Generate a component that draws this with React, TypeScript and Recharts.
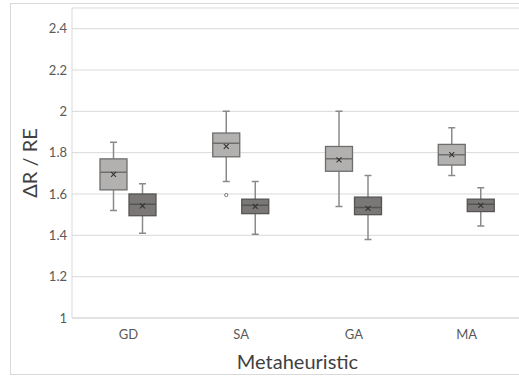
import { ComposedChart, Bar, XAxis, YAxis, CartesianGrid, Label } from "recharts";

const CATEGORIES = ["GD", "SA", "GA", "MA"];
const Y_TICKS = [1, 1.2, 1.4, 1.6, 1.8, 2, 2.2, 2.4];

// light boxes (first series)
const LIGHT_MIN = [1.52, 1.66, 1.54, 1.69];
const LIGHT_Q1 = [1.62, 1.78, 1.71, 1.74];
const LIGHT_MEDIAN = [1.705, 1.845, 1.77, 1.79];
const LIGHT_Q3 = [1.77, 1.895, 1.83, 1.84];
const LIGHT_MAX = [1.85, 2.0, 2.0, 1.92];
const LIGHT_MEAN = [1.695, 1.83, 1.765, 1.79];
const LIGHT_OUTLIERS = [[], [1.595], [], []];

// dark boxes (second series)
const DARK_MIN = [1.41, 1.405, 1.38, 1.445];
const DARK_Q1 = [1.495, 1.505, 1.5, 1.515];
const DARK_MEDIAN = [1.55, 1.545, 1.535, 1.55];
const DARK_Q3 = [1.6, 1.575, 1.585, 1.575];
const DARK_MAX = [1.65, 1.66, 1.69, 1.63];
const DARK_MEAN = [1.543, 1.54, 1.53, 1.545];
const DARK_OUTLIERS = [[], [], [], []];

type Stats = { min: number; q1: number; median: number; q3: number; max: number; mean: number; outliers: number[] };

const pack = (i: number, mn: number[], q1: number[], md: number[], q3: number[], mx: number[], mean: number[], out: number[][]): Stats => ({
  min: mn[i], q1: q1[i], median: md[i], q3: q3[i], max: mx[i], mean: mean[i], outliers: out[i],
});

const data = CATEGORIES.map((name, i) => {
  const light = pack(i, LIGHT_MIN, LIGHT_Q1, LIGHT_MEDIAN, LIGHT_Q3, LIGHT_MAX, LIGHT_MEAN, LIGHT_OUTLIERS);
  const dark = pack(i, DARK_MIN, DARK_Q1, DARK_MEDIAN, DARK_Q3, DARK_MAX, DARK_MEAN, DARK_OUTLIERS);
  return {
    name,
    light,
    dark,
    lightRange: [Math.min(light.min, ...light.outliers), Math.max(light.max, ...light.outliers)],
    darkRange: [Math.min(dark.min, ...dark.outliers), Math.max(dark.max, ...dark.outliers)],
  };
});

function makeBoxShape(key: "light" | "dark", fill: string, stroke: string, whisker: string) {
  return (props: any) => {
    const { x, y, width, height, payload } = props;
    const s: Stats = payload[key];
    const range = payload[key + "Range"];
    const lo = range[0];
    const hi = range[1];
    const top = Math.min(y, y + height);
    const h = Math.abs(height);
    const py = (v: number) => top + ((hi - v) / (hi - lo)) * h;
    const cx = x + width / 2;
    const cap = 3.5;
    const m = 2.5;
    return (
      <g>
        <line x1={cx} x2={cx} y1={py(s.max)} y2={py(s.q3)} stroke={whisker} strokeWidth={1.5} />
        <line x1={cx} x2={cx} y1={py(s.q1)} y2={py(s.min)} stroke={whisker} strokeWidth={1.5} />
        <line x1={cx - cap} x2={cx + cap} y1={py(s.max)} y2={py(s.max)} stroke={whisker} strokeWidth={1.5} />
        <line x1={cx - cap} x2={cx + cap} y1={py(s.min)} y2={py(s.min)} stroke={whisker} strokeWidth={1.5} />
        <rect x={x} y={py(s.q3)} width={width} height={py(s.q1) - py(s.q3)} fill={fill} stroke={stroke} strokeWidth={1.3} />
        <line x1={x} x2={x + width} y1={py(s.median)} y2={py(s.median)} stroke={stroke} strokeWidth={1.5} />
        <line x1={cx - m} x2={cx + m} y1={py(s.mean) - m} y2={py(s.mean) + m} stroke="#333" strokeWidth={1.1} />
        <line x1={cx - m} x2={cx + m} y1={py(s.mean) + m} y2={py(s.mean) - m} stroke="#333" strokeWidth={1.1} />
        {s.outliers.map((o, j) => (
          <circle key={j} cx={cx} cy={py(o)} r={1.6} fill="#fff" stroke="#777" strokeWidth={1} />
        ))}
      </g>
    );
  };
}

const FONT = "Lato, 'Open Sans', sans-serif";

export default function App() {
  return (
    <div style={{ position: "fixed", left: 0, top: 0, width: 519, height: 379, background: "#fff", overflow: "hidden" }}>
      <div style={{ position: "absolute", left: 10, top: 3, width: 540, height: 372, border: "1px solid #d9d9d9", boxSizing: "border-box" }} />
      <div style={{ position: "absolute", left: 0, top: 0 }}>
        <ComposedChart
          width={540}
          height={379}
          data={data}
          margin={{ top: 8, right: 17, bottom: 0, left: 10 }}
          barGap={2}
          style={{ fontFamily: FONT }}
        >
          <CartesianGrid horizontal vertical={false} stroke="#d9d9d9" />
          <XAxis
            dataKey="name"
            axisLine={{ stroke: "#d9d9d9" }}
            tickLine={false}
            tick={{ fontSize: 13, fill: "#595959" }}
            tickMargin={6}
            height={61}
          >
            <Label value="Metaheuristic" position="insideBottom" offset={10} style={{ fontSize: 20, fill: "#404040" }} />
          </XAxis>
          <YAxis
            type="number"
            domain={[1, 2.5]}
            ticks={Y_TICKS}
            allowDataOverflow
            axisLine={{ stroke: "#d9d9d9" }}
            tickLine={false}
            tick={{ fontSize: 13, fill: "#595959" }}
            tickMargin={0}
            tickSize={5}
            width={62}
          >
            <Label value="ΔR / RE" angle={-90} position="insideLeft" offset={20} style={{ fontSize: 20, fill: "#404040", textAnchor: "middle" }} />
          </YAxis>
          <Bar dataKey="lightRange" barSize={27} isAnimationActive={false} shape={makeBoxShape("light", "#b3b0b0", "#6e6e6e", "#8a8a8a")} />
          <Bar dataKey="darkRange" barSize={27} isAnimationActive={false} shape={makeBoxShape("dark", "#7b7777", "#555555", "#8a8a8a")} />
        </ComposedChart>
      </div>
    </div>
  );
}
